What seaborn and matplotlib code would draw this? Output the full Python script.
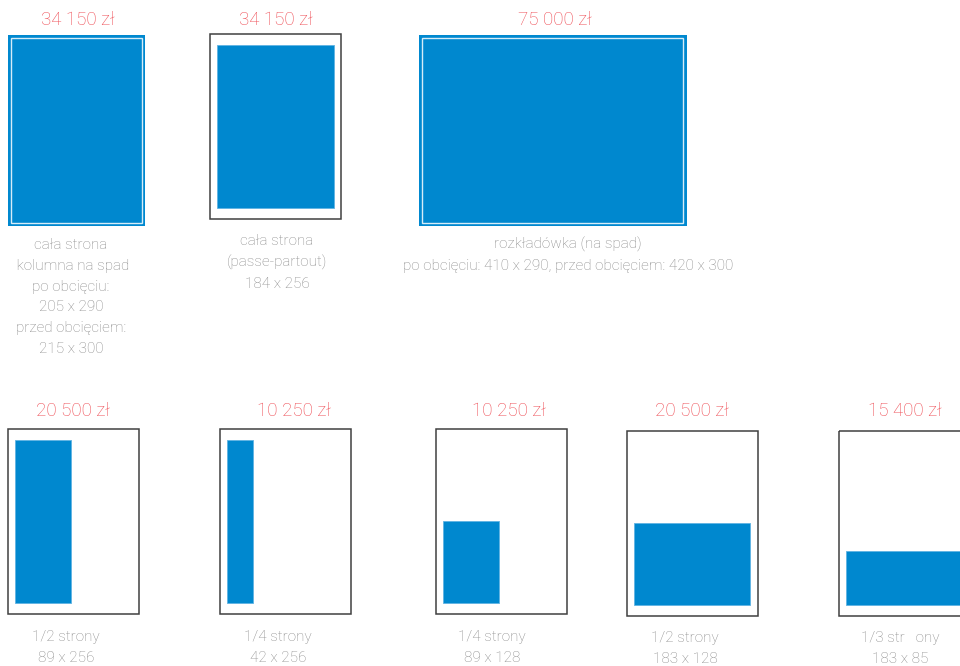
import matplotlib
matplotlib.use("Agg")
import matplotlib.pyplot as plt
from matplotlib.patches import Rectangle
import seaborn as sns

# ad formats (mm)
prices = ["34 150 zł", "34 150 zł", "75 000 zł",
          "20 500 zł", "10 250 zł", "10 250 zł", "20 500 zł", "15 400 zł"]
captions = ["cała strona\n kolumna na spad\npo obcięciu:\n205 x 290\nprzed obcięciem:\n215 x 300",
            "cała strona\n(passe-partout)\n184 x 256",
            "rozkładówka (na spad)\npo obcięciu: 410 x 290, przed obcięciem: 420 x 300",
            "1/2 strony\n89 x 256",
            "1/4 strony\n42 x 256",
            "1/4 strony\n89 x 128",
            "1/2 strony\n183 x 128",
            "1/3 str   ony\n183 x 85"]
ad_w = [215, 184, 420, 89, 42, 89, 183, 183]
ad_h = [300, 256, 300, 256, 256, 128, 128, 85]
trim_w = [205, 205, 410, 205, 205, 205, 205, 205]
trim_h = [290, 290, 290, 290, 290, 290, 290, 290]
bleed = [True, False, True, False, False, False, False, False]

# layout in pixels
px_per_mm = 0.637
panel_x = [8, 210, 419, 8, 220, 436, 627, 839]
panel_y = [35, 34, 35, 429, 429, 429, 431, 431]
price_x = [78, 276, 555, 73, 294, 509, 692, 905]
price_y = [20, 20, 20, 411, 411, 411, 411, 411]
cap_x = [71, 277, 568, 66, 278, 492, 685, 900]
cap_y = [245, 241, 244, 637, 637, 637, 638, 638]

BLUE = "#0088cf"
RED = "#ee4b53"
GREY = "#888888"

sns.set_theme(style="white")
plt.rcParams['font.family'] = ['Roboto', 'DejaVu Sans']

fig = plt.figure(figsize=(9.6, 6.66), dpi=100)
ax = fig.add_axes([0, 0, 1, 1])
ax.set_xlim(0, 960)
ax.set_ylim(666, 0)
ax.axis('off')

for i in range(len(prices)):
    x0, y0 = panel_x[i], panel_y[i]
    w = ad_w[i] * px_per_mm
    h = ad_h[i] * px_per_mm
    if bleed[i]:
        # full bleed page + trim line
        ax.bar(x0, h, width=w, bottom=y0, align='edge', color=BLUE, linewidth=0)
        mx = (ad_w[i] - trim_w[i]) / 2 * px_per_mm
        my = (ad_h[i] - trim_h[i]) / 2 * px_per_mm
        ax.add_patch(Rectangle((x0 + mx, y0 + my), trim_w[i] * px_per_mm, trim_h[i] * px_per_mm,
                               fill=False, edgecolor="#d6ecf8", lw=1.0))
    else:
        fw = trim_w[i] * px_per_mm
        fh = trim_h[i] * px_per_mm
        ax.add_patch(Rectangle((x0, y0), fw, fh, fill=False, edgecolor="#404040", lw=1.1))
        left = x0 + 10.5 * px_per_mm
        top = y0 + fh - 17 * px_per_mm - h
        ax.bar(left, h, width=w, bottom=top, align='edge', color=BLUE,
               edgecolor="#5fb3e3", linewidth=0.6)

    ax.text(price_x[i], price_y[i], prices[i], ha='center', va='center',
            fontsize=13.5, color=RED, fontweight='light')
    ax.text(cap_x[i], cap_y[i] - 7, captions[i], ha='center', va='top',
            fontsize=11, color=GREY, fontweight='light', linespacing=1.62)

fig.savefig("out.png", dpi=100)
